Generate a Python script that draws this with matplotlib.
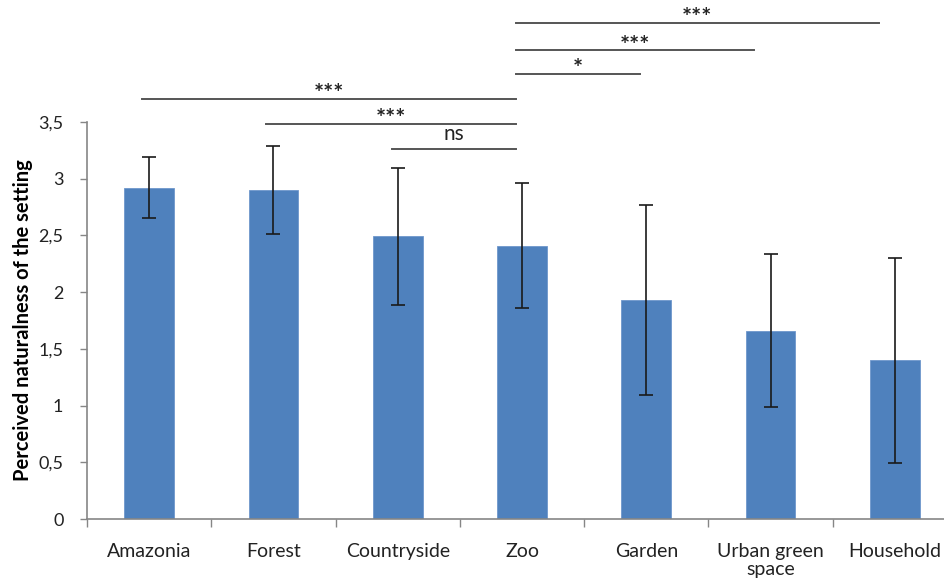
import matplotlib.pyplot as plt
import numpy as np

categories = ["Amazonia", "Forest", "Countryside", "Zoo", "Garden", "Urban green\nspace", "Household"]
means = [2.92, 2.90, 2.49, 2.41, 1.93, 1.66, 1.40]
errors = [0.27, 0.39, 0.60, 0.55, 0.84, 0.675, 0.90]
yticks = [0, 0.5, 1, 1.5, 2, 2.5, 3, 3.5]
ytick_labels = ["0", "0,5", "1", "1,5", "2", "2,5", "3", "3,5"]

# significance brackets: start, end, height, label
sig_start = [2.95, 2.95, 2.95, -0.06, 0.94, 1.95]
sig_end = [5.87, 4.87, 3.95, 2.95, 2.95, 2.95]
sig_y = [4.37, 4.13, 3.92, 3.70, 3.48, 3.26]
sig_labels = ["***", "***", "*", "***", "***", "ns"]

plt.rcParams['font.family'] = ['Lato', 'DejaVu Sans']
axis_grey = "#868686"

fig = plt.figure(figsize=(9.44, 5.81), dpi=100)
ax = fig.add_axes([87/944, 61.7/581, 870/944, 397.6/581])

x = np.arange(len(categories))
ax.bar(x, means, width=0.4, color="#4F81BD", edgecolor="#6F97CC", linewidth=0.6,
       yerr=errors, capsize=5,
       error_kw=dict(ecolor="#1a1a1a", elinewidth=1.2, capthick=1.2))

ax.set_xlim(-0.5, 6.5)
ax.set_ylim(0, 3.5)
ax.set_yticks(yticks)
ax.set_yticklabels(ytick_labels, fontsize=13, color="#222222")
ax.set_xticks(x)
ax.set_xticklabels(categories, fontsize=14, color="#222222", linespacing=1.05)
ax.set_xticks(np.arange(-0.5, 7, 1), minor=True)
ax.tick_params(axis="x", which="major", length=0, pad=17)
ax.tick_params(axis="x", which="minor", length=6, color=axis_grey, width=1)
ax.tick_params(axis="y", length=5, color=axis_grey, width=1, pad=12)

for side in ["top", "right"]:
    ax.spines[side].set_visible(False)
for side in ["left", "bottom"]:
    ax.spines[side].set_color(axis_grey)
    ax.spines[side].set_linewidth(1.2)

ax.set_ylabel("Perceived naturalness of the setting", fontsize=14.5, fontweight="bold",
              labelpad=4)

for s, e, h, lab in zip(sig_start, sig_end, sig_y, sig_labels):
    ax.plot([s, e], [h, h], color="#555555", linewidth=1.4, clip_on=False)
    if lab == "ns":
        ax.text((s + e) / 2, h + 0.04, lab, ha="center", va="bottom", fontsize=15,
                color="#222222")
    else:
        ax.text((s + e) / 2, h - 0.065, lab, ha="center", va="bottom", fontsize=17,
                color="#222222", fontweight="bold")

fig.savefig("out.png", dpi=100)
